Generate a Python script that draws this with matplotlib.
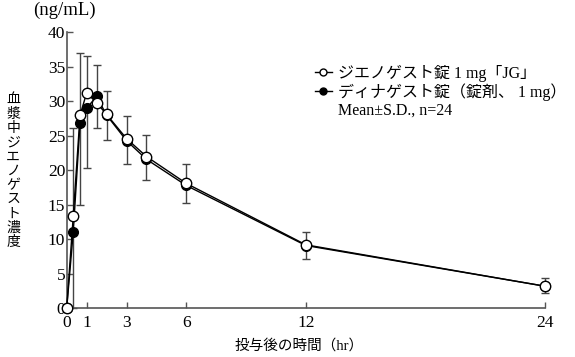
import matplotlib
matplotlib.use("Agg")
import matplotlib.pyplot as plt
from matplotlib.lines import Line2D

# ---- data ----
time_h = [0, 0.33, 0.67, 1, 1.5, 2, 3, 4, 6, 12, 24]
generic_mean = [0, 13.4, 28.0, 31.2, 29.8, 28.1, 24.6, 22.0, 18.1, 9.2, 3.2]
generic_err_up = [0, 12.7, 9.0, 5.3, 0, 3.4, 3.3, 3.1, 2.8, 1.9, 1.15]
generic_err_lo = [0, 0, 0, 0, 3.7, 0, 0, 0, 0, 2.1, 1.0]
brand_mean = [0, 11.1, 26.9, 29.0, 30.7, 28.0, 24.3, 21.6, 17.8, 9.1, 3.2]
brand_err_up = [0, 0, 0, 0, 4.5, 0, 0, 0, 0, 0, 0]
brand_err_lo = [0, 11.1, 11.9, 8.7, 0, 3.6, 3.4, 3.0, 2.6, 0, 0]
xticks = [0, 1, 3, 6, 12, 24]
yticks = [0, 5, 10, 15, 20, 25, 30, 35, 40]
label_generic = "ジエノゲスト錠 1 mg「JG」"
label_brand = "ディナゲスト錠（錠剤、 1 mg）"
label_note = "Mean±S.D., n=24"
ylabel = "血漿中ジエノゲスト濃度"
unit = "(ng/mL)"
xlabel = "投与後の時間（hr）"

FAM = ["Liberation Serif", "Noto Sans CJK JP"]
plt.rcParams["font.family"] = FAM

fig = plt.figure(figsize=(5.75, 3.57), dpi=100)
ax = fig.add_axes([0.116, 0.1364, 0.832, 0.7731])

ecol = "#444444"
ax.errorbar(time_h, brand_mean, yerr=[brand_err_lo, brand_err_up], fmt="none",
            ecolor=ecol, elinewidth=1.0, capsize=3, capthick=1.0, zorder=2, clip_on=False)
ax.errorbar(time_h, generic_mean, yerr=[generic_err_lo, generic_err_up], fmt="none",
            ecolor=ecol, elinewidth=1.0, capsize=3, capthick=1.0, zorder=2, clip_on=False)
ax.plot(time_h, brand_mean, color="black", lw=1.0, marker="o", ms=7,
        mfc="black", mec="black", zorder=3, clip_on=False)
ax.plot(time_h, generic_mean, color="black", lw=1.0, marker="o", ms=7.5,
        mfc="white", mec="black", mew=1.0, zorder=4, clip_on=False)

ax.set_xlim(0, 24)
ax.set_ylim(0, 40)
ax.set_xticks(xticks)
ax.set_yticks(yticks)
for s in ["top", "right"]:
    ax.spines[s].set_visible(False)
for s in ["left", "bottom"]:
    ax.spines[s].set_color("#555555")
    ax.spines[s].set_linewidth(1.2)
ax.tick_params(direction="in", length=4, width=1, color="#555555",
               labelsize=12.5)
ax.tick_params(axis="y", pad=1)
ax.tick_params(axis="x", pad=5)

fig.text(0.023, 0.52, "\n".join(ylabel), ha="center", va="center",
         fontsize=10, linespacing=1.13, family=FAM)
fig.text(0.058, 0.995, unit, ha="left", va="top", fontsize=13.5, family=FAM)
fig.text(0.52, 0.012, xlabel, ha="center", va="bottom", fontsize=10.5, family=FAM)

h1 = Line2D([], [], color="black", lw=1.0, marker="o", ms=5, mfc="white", mec="black")
h2 = Line2D([], [], color="black", lw=1.0, marker="o", ms=5, mfc="black", mec="black")
h3 = Line2D([], [], color="none")
leg = ax.legend([h1, h2, h3], [label_generic, label_brand, label_note],
                loc="upper left", bbox_to_anchor=(0.505, 0.905), frameon=False,
                handlelength=1.1, handletextpad=0.35, labelspacing=0.08,
                prop={"family": FAM, "size": 11.5}, borderaxespad=0)

fig.savefig("out.png", dpi=100)
